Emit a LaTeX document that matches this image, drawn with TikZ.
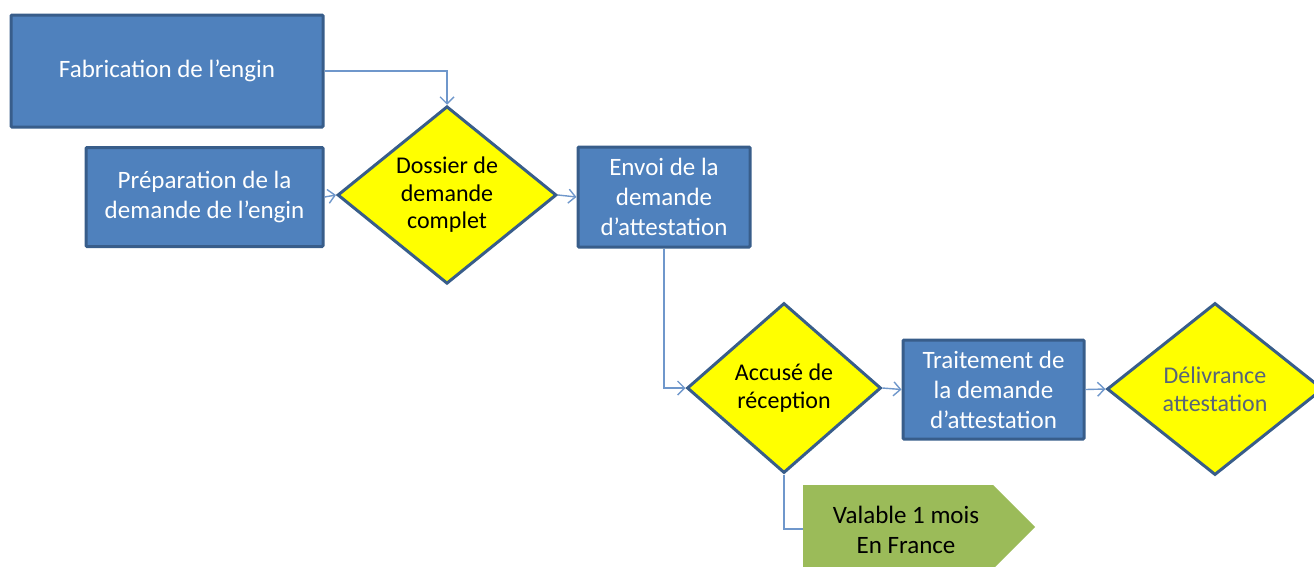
\documentclass[tikz,border=0pt]{standalone}
\usepackage{fontspec}
\setmainfont{Carlito}
\usetikzlibrary{shapes.geometric,arrows.meta}
\definecolor{boxfill}{HTML}{4F81BD}
\definecolor{boxline}{HTML}{385D8A}
\definecolor{linkc}{HTML}{6F97CB}
\definecolor{dyellow}{HTML}{FFFF00}
\definecolor{greenfill}{HTML}{9BBB59}
\definecolor{delivtext}{HTML}{56647A}
\tikzset{
  bluebox/.style={draw=boxline, fill=boxfill, line width=3pt, rounded corners=1pt,
    text=white, align=center, inner sep=0pt,
    font=\fontsize{25pt}{30pt}\selectfont},
  decision/.style={diamond, draw=boxline, fill=dyellow, line width=3pt, inner sep=0pt,
    text=black, align=center, font=\fontsize{24pt}{27.5pt}\selectfont},
  link/.style={draw=linkc, line width=1.4pt, -{Straight Barb[length=7pt,width=14pt]}},
  plainlink/.style={draw=linkc, line width=1.4pt},
  greentxt/.style={align=center, text=black, inner sep=0pt,
    font=\fontsize{25pt}{30pt}\selectfont}
}
\begin{document}
\begin{tikzpicture}[x=1pt,y=-1pt]
\useasboundingbox (0,0) rectangle (1314,566);
% boxes
\node[bluebox, minimum width=312pt, minimum height=112pt] (fab) at (167,71) {Fabrication de l’engin};
\node[bluebox, minimum width=237pt, minimum height=99pt] (prep) at (204.5,197) {Préparation de la\\demande de l’engin};
\node[decision, minimum width=219pt, minimum height=173pt] (dossier) at (447,195) {Dossier de\\demande\\complet};
\node[bluebox, minimum width=172pt, minimum height=100pt] (envoi) at (664,197) {Envoi de la\\demande\\d’attestation};
\node[decision, minimum width=194pt, minimum height=170pt] (accuse) at (784,388) {Accusé de\\réception};
\node[bluebox, minimum width=181pt, minimum height=99pt] (trait) at (993.5,389.5) {Traitement de\\la demande\\d’attestation};
\node[decision, minimum width=216pt, minimum height=172pt, text=delivtext] (deliv) at (1215,389) {Délivrance\\attestation};
% green pointer shape
\fill[greenfill] (803,485) -- (993,485) -- (1035,527) -- (993,569) -- (803,569) -- cycle;
\coordinate (vleft) at (803,529);
\node[greentxt] (valable) at (906,530) {Valable 1 mois\\En France};
% connectors
\draw[link] (fab.east) -| (dossier.north);
\draw[link] (prep.east) -- (dossier.west);
\draw[link] (dossier.east) -- (envoi.west);
\draw[link] (envoi.south) |- (accuse.west);
\draw[link] (accuse.east) -- (trait.west);
\draw[link] (trait.east) -- (deliv.west);
\draw[plainlink] (accuse.south) |- (vleft);
\end{tikzpicture}
\end{document}
